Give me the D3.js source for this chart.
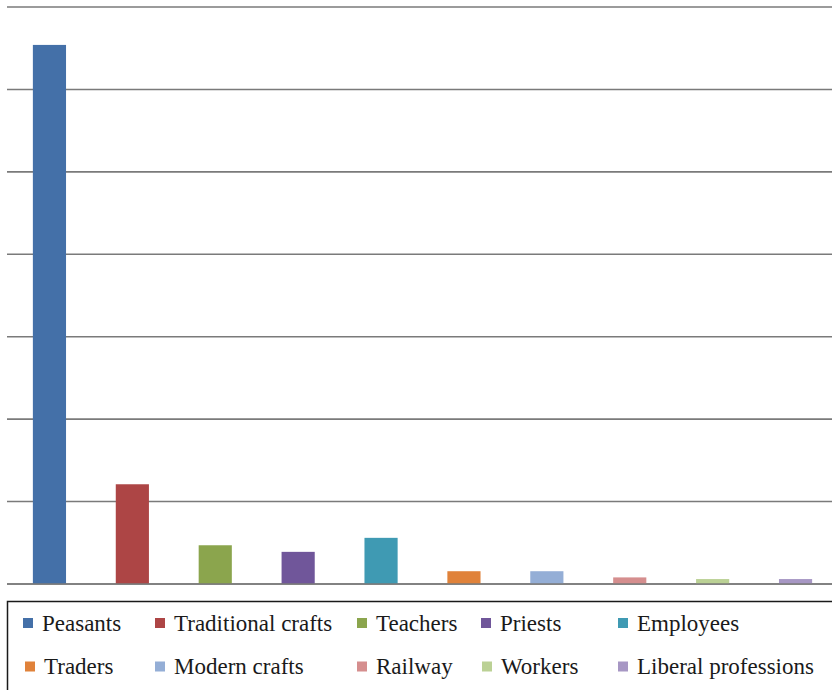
<!DOCTYPE html>
<html>
<head>
<meta charset="utf-8">
<script src="https://cdn.jsdelivr.net/npm/d3@7"></script>
<style>
  html, body { margin: 0; padding: 0; background: #fff; }
  svg { display: block; }
</style>
</head>
<body>
<script>
// Occupational categories and their shares
const categories = ["Peasants", "Traditional crafts", "Teachers", "Priests", "Employees",
                    "Traders", "Modern crafts", "Railway", "Workers", "Liberal professions"];
const values = [65.4, 12.1, 4.7, 3.9, 5.6, 1.55, 1.55, 0.8, 0.6, 0.6];
const colors = ["#4470a8", "#ad4545", "#8ba54d", "#70569a", "#3f9ab3",
                "#e0823a", "#94aed6", "#d58e8e", "#bbd195", "#a797c4"];
const gridTicks = [0, 10, 20, 30, 40, 50, 60, 70];

const W = 832, H = 690;
const svg = d3.select("body").append("svg").attr("width", W).attr("height", H);

const y = d3.scaleLinear().domain([0, 70]).range([584, 7]);
const x = d3.scaleBand().domain(categories).range([8, 837]).paddingInner(0.6).paddingOuter(0.3);

// Horizontal gridlines
svg.append("g")
  .selectAll("line")
  .data(gridTicks)
  .join("line")
  .attr("x1", 7).attr("x2", 832)
  .attr("y1", d => y(d)).attr("y2", d => y(d))
  .attr("stroke", "#7a7a7a")
  .attr("stroke-width", 1.6);

// Bars
svg.append("g")
  .selectAll("rect")
  .data(categories)
  .join("rect")
  .attr("x", d => x(d))
  .attr("width", x.bandwidth())
  .attr("y", (d, i) => y(values[i]))
  .attr("height", (d, i) => y(0) - y(values[i]))
  .attr("fill", (d, i) => colors[i]);

// Redraw baseline over bar bottoms
svg.append("line")
  .attr("x1", 7).attr("x2", 832)
  .attr("y1", y(0)).attr("y2", y(0))
  .attr("stroke", "#7a7a7a").attr("stroke-width", 1.6);

// Legend box
svg.append("rect")
  .attr("x", 7.5).attr("y", 601.5)
  .attr("width", 830).attr("height", 100)
  .attr("fill", "none")
  .attr("stroke", "#1a1a1a")
  .attr("stroke-width", 1.5);

const legendCols = [
  [23, 155, 357, 481, 618],
  [25, 155, 357, 482, 618]
];
const legendRows = [623, 666.5];

const legend = svg.append("g")
  .selectAll("g")
  .data(categories)
  .join("g")
  .attr("transform", (d, i) => {
    const r = Math.floor(i / 5), c = i % 5;
    return `translate(${legendCols[r][c]},${legendRows[r]})`;
  });

legend.append("rect")
  .attr("x", 0).attr("y", -5)
  .attr("width", 10).attr("height", 10)
  .attr("fill", (d, i) => colors[i]);

legend.append("text")
  .attr("x", 19)
  .attr("y", 0)
  .attr("dy", "0.33em")
  .attr("font-family", "'Liberation Serif', 'Times New Roman', serif")
  .attr("font-size", 23)
  .attr("fill", "#1a1a1a")
  .text(d => d);
</script>
</body>
</html>
